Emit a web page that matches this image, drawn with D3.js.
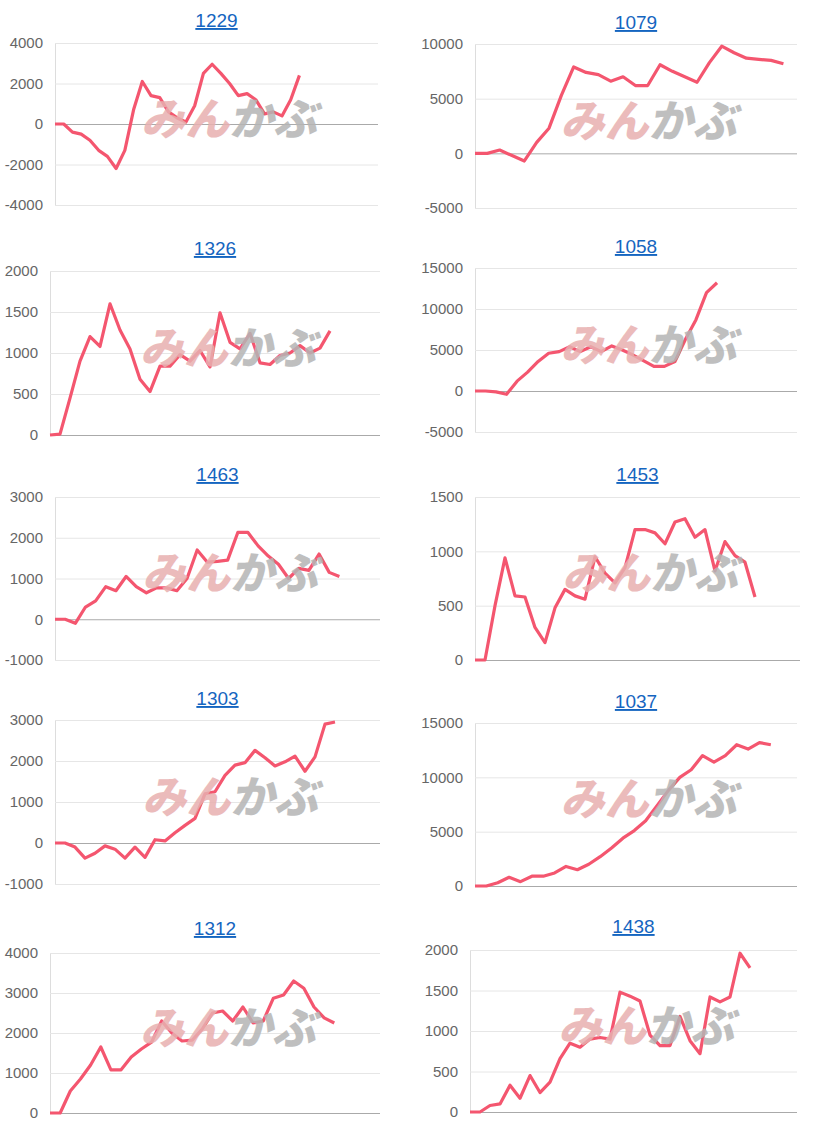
<!DOCTYPE html>
<html><head><meta charset="utf-8">
<script src="https://cdn.jsdelivr.net/npm/d3@7"></script>
<style>body{margin:0;background:#fff}svg{display:block}</style>
</head><body><svg id="c" width="829" height="1130"></svg>
<script>
const titles = ["1229","1079","1326","1058","1463","1453","1303","1037","1312","1438"];
const ticks = [
  [-4000,-2000,0,2000,4000],[-5000,0,5000,10000],
  [0,500,1000,1500,2000],[-5000,0,5000,10000,15000],
  [-1000,0,1000,2000,3000],[0,500,1000,1500],
  [-1000,0,1000,2000,3000],[0,5000,10000,15000],
  [0,1000,2000,3000,4000],[0,500,1000,1500,2000]];
const slots = [37,26.1,33,30.6,32,32.5,32.5,28.3,32.5,32.7];
const s1229 = [0,0,-400,-500,-800,-1300,-1600,-2200,-1300,700,2100,1400,1300,600,300,100,900,2500,2950,2500,2000,1400,1500,1200,500,600,400,1200,2400];
const s1079 = [0,0,300,-200,-700,1000,2300,5300,7900,7400,7200,6600,7000,6200,6200,8100,7500,7000,6500,8300,9800,9200,8700,8600,8500,8200];
const s1326 = [0,10,450,900,1200,1080,1600,1280,1050,680,530,840,840,980,900,1030,830,1490,1130,1050,1240,880,860,970,1000,1090,1000,1060,1270];
const s1058 = [0,0,-100,-400,1200,2300,3600,4600,4800,5400,4800,5400,4800,5500,5000,4400,3700,3000,3000,3600,6300,8700,12000,13200];
const s1463 = [0,0,-100,300,450,800,700,1050,800,650,770,770,700,1000,1700,1400,1420,1450,2130,2130,1800,1550,1350,1000,1250,1200,1600,1150,1050];
const s1453 = [0,0,500,940,590,580,300,160,480,650,590,560,950,800,710,850,1200,1200,1170,1070,1270,1300,1130,1200,820,1090,960,900,580];
const s1303 = [0,0,-100,-370,-250,-70,-150,-370,-100,-350,80,50,250,430,600,1200,1250,1650,1900,1960,2260,2080,1880,1980,2120,1750,2100,2900,2950];
const s1037 = [0,0,300,800,400,900,900,1200,1800,1500,2000,2700,3500,4400,5100,6000,7400,8800,10000,10700,12000,11400,12000,13000,12600,13200,13000];
const s1312 = [0,0,550,850,1200,1650,1080,1080,1400,1600,1770,2300,2000,1800,1820,2100,2500,2550,2300,2650,2250,2300,2870,2950,3300,3120,2650,2380,2250];
const s1438 = [0,0,80,100,330,170,450,240,370,660,850,800,900,920,900,1480,1430,1370,950,820,820,1180,880,720,1420,1360,1420,1960,1780];
const series = [s1229,s1079,s1326,s1058,s1463,s1453,s1303,s1037,s1312,s1438];

const layout = [
  [55,378,43,205,20],[475,797,44,208,22],
  [50,380,271,435,248],[475,797,268,432,246],
  [55,380,497,660,474],[475,800,497,660,474],
  [55,380,720,884,698],[475,797,723,886,701],
  [50,380,953,1113,928],[470,797,950,1112,926]];

const svg = d3.select("#c");
series.forEach((data,i)=>{
  const [L,R,T,B,ty] = layout[i];
  const tk = ticks[i];
  const x = d3.scaleLinear().domain([0,slots[i]]).range([L,R]);
  const y = d3.scaleLinear().domain([tk[0],tk[tk.length-1]]).range([B,T]);
  const g = svg.append("g");
  g.append("text").attr("x",(L+R)/2).attr("y",ty+7).attr("text-anchor","middle")
    .attr("font-family","Arial, Liberation Sans, sans-serif").attr("font-size",19)
    .attr("fill","#1565c0").attr("text-decoration","underline").text(titles[i]);
  const ax = d3.axisLeft(y).tickValues(tk).tickFormat(d=>String(d)).tickSize(-(R-L)).tickPadding(12);
  const a = g.append("g").attr("transform",`translate(${L},0)`).call(ax);
  a.select(".domain").attr("stroke","#ddd");
  a.selectAll(".tick line").attr("stroke",d=>d===0?"#aaa":"#e6e6e6");
  a.selectAll(".tick text").attr("fill","#666").attr("font-size",15)
    .attr("font-family","Arial, Liberation Sans, sans-serif");
  g.append("path").datum(data)
    .attr("d",d3.line().x((d,j)=>x(j)).y(d=>y(d)))
    .attr("fill","none").attr("stroke","#f4566f").attr("stroke-width",3.2)
    .attr("stroke-linejoin","round");
  const cx = L + (R-L)*0.55, cy = (T+B)/2 - 5;
  const wm = g.append("text").attr("x",cx + cy*0.2126).attr("y",cy+16).attr("text-anchor","middle")
    .attr("font-family","Noto Sans CJK JP").attr("font-weight",900)
    .attr("font-size",44).attr("opacity",0.85).attr("transform","skewX(-12)");
  wm.append("tspan").attr("fill","#e8b0b0").text("みん");
  wm.append("tspan").attr("fill","#b5b5b5").text("かぶ");
});
</script></body></html>
